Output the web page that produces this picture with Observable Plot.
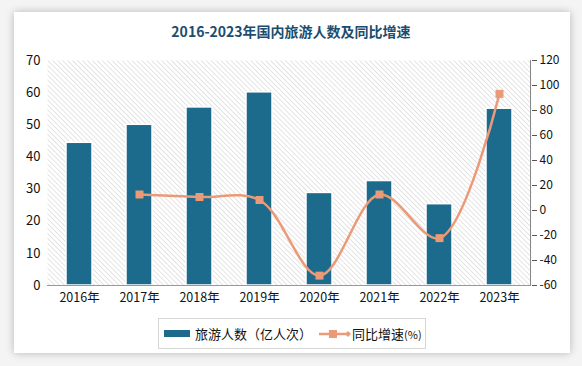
<!DOCTYPE html>
<html><head><meta charset="utf-8">
<script src="https://cdn.jsdelivr.net/npm/d3@7"></script>
<script src="https://cdn.jsdelivr.net/npm/@observablehq/plot@0.6"></script>
<style>
body{margin:0;background:#f4f4f4;width:582px;height:366px;overflow:hidden;font-family:"Noto Sans CJK SC","Noto Sans",sans-serif;}
#card{position:absolute;left:14px;top:12px;width:556px;height:341px;background:#fff;box-shadow:0 0 8px rgba(0,0,0,0.25);}
#title{position:absolute;left:0;top:21px;width:582px;text-align:center;font-size:14px;line-height:20px;font-weight:bold;color:#1b4d6e;font-family:"Noto Sans CJK SC",sans-serif;}
#chart{position:absolute;left:0;top:48px;}
#legend{position:absolute;left:158px;top:318px;width:266px;height:29px;border:1px solid #d6d6d6;display:flex;align-items:center;font-size:13px;color:#111;}
.sw{display:inline-block;}
</style></head>
<body>
<div id="card"></div>
<div id="title">2016-2023年国内旅游人数及同比增速</div>
<div id="chart"></div>
<div id="legend">
  <span class="sw" style="width:26px;height:7px;background:#1c6a8c;margin-left:5px;margin-right:5px;"></span><span>旅游人数（亿人次）</span>
  <svg width="34" height="12" style="margin-left:6px"><line x1="1" y1="6" x2="31" y2="6" stroke="#eb9a78" stroke-width="2.5"/><rect x="11" y="2" width="8" height="8" fill="#eb9a78"/><path d="M27 6 L30 3 L33 6 L30 9Z" fill="#eb9a78"/></svg><span>同比增速<span style="font-size:11px">(%)</span></span>
</div>
<script>
const years = ["2016年","2017年","2018年","2019年","2020年","2021年","2022年","2023年"];
const tourists = [44.4, 50.0, 55.4, 60.1, 28.8, 32.5, 25.3, 55.0];
const growth = [null, 12.8, 10.8, 8.4, -52.1, 12.8, -22.1, 93.3];
const leftTicks = [0,10,20,30,40,50,60,70];
const rightTicks = [-60,-40,-20,0,20,40,60,80,100,120];

const gMin = -60, gMax = 120, yMax = 70;
const toLeft = g => (g - gMin) * yMax / (gMax - gMin);

const bars = years.map((y,i)=>({year:y, value:tourists[i]}));
const pts = years.map((y,i)=>({year:y, g:growth[i]})).filter(d=>d.g!==null).map(d=>({...d, v:toLeft(d.g)}));

const plot = Plot.plot({
  width: 582, height: 262,
  marginTop: 12, marginBottom: 25, marginLeft: 47, marginRight: 51,
  style:{fontFamily:'"Noto Sans CJK SC","Noto Sans",sans-serif', fontSize:"12px", color:"#111", overflow:"visible"},
  x:{domain:years, paddingInner:0.57, paddingOuter:0.285, label:null},
  y:{domain:[0,yMax], label:null},
  marks:[
    Plot.frame({fill:"url(#hatch)", stroke:null}),
    Plot.axisY(leftTicks, {anchor:"left", tickSize:0, tickPadding:7, label:null, fontSize:13}),
    Plot.axisY(rightTicks.map(toLeft), {anchor:"right", tickSize:5, tickPadding:3, label:null, tickFormat:(d,i)=>String(rightTicks[i]), fontSize:12, stroke:"#555"}),
    Plot.barY(bars, {x:"year", y:"value", fill:"#1c6a8c", stroke:"#fff", strokeWidth:1.5, style:"filter:drop-shadow(1px 1px 1.5px rgba(0,0,0,0.35))"}),
    Plot.ruleY([0], {stroke:"#999", strokeWidth:1}),
    Plot.axisX({tickSize:0, tickPadding:8, label:null, fontSize:12.5}),
    Plot.line(pts, {x:"year", y:"v", curve:"catmull-rom", stroke:"#eb9a78", strokeWidth:2.5}),
    Plot.dot(pts, {x:"year", y:"v", symbol:"square", r:4.5, fill:"#eb9a78", stroke:"none"})
  ]
});
const defs = d3.select(plot).insert("defs", ":first-child");
const pat = defs.append("pattern").attr("id","hatch").attr("patternUnits","userSpaceOnUse").attr("width",3.5).attr("height",3.5).attr("patternTransform","rotate(-45)");
pat.append("rect").attr("width",3.5).attr("height",3.5).attr("fill","#fff");
pat.append("line").attr("x1",0).attr("y1",0).attr("x2",0).attr("y2",3.5).attr("stroke","#d2d2d2").attr("stroke-width",1.2);
document.getElementById("chart").appendChild(plot);
d3.select(plot).append("line").attr("x1",530.5).attr("x2",530.5).attr("y1",12).attr("y2",237).attr("stroke","#888");
</script>
</body></html>
